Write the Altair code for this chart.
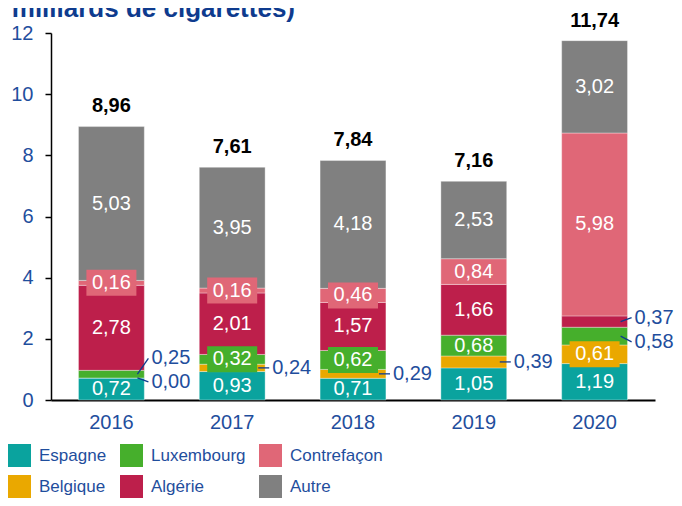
import altair as alt
import pandas as pd

# ---------------- data ----------------
years = ["2016", "2017", "2018", "2019", "2020"]
espagne = [0.72, 0.93, 0.71, 1.05, 1.19]
belgique = [0.00, 0.24, 0.29, 0.39, 0.61]
luxembourg = [0.25, 0.32, 0.62, 0.68, 0.58]
algerie = [2.78, 2.01, 1.57, 1.66, 0.37]
contrefacon = [0.16, 0.16, 0.46, 0.84, 5.98]
autre = [5.03, 3.95, 4.18, 2.53, 3.02]
totals = [8.96, 7.61, 7.84, 7.16, 11.74]

series_names = ["Espagne", "Belgique", "Luxembourg", "Algérie", "Contrefaçon", "Autre"]
series_values = [espagne, belgique, luxembourg, algerie, contrefacon, autre]

# ---------------- style ----------------
color_map = {
    "Espagne": "#0aa39e",
    "Belgique": "#eaa800",
    "Luxembourg": "#46af2c",
    "Algérie": "#bd1f4b",
    "Contrefaçon": "#e06777",
    "Autre": "#808080",
}
BLUE = "#1f4e9d"
DARK_BLUE = "#0e3b8e"
FONT = "Liberation Sans"

# labels drawn outside the bar, with leader line: label y in data units (None = level with segment)
outside_labels = {
    ("2016", "Luxembourg"): 1.36,
    ("2016", "Belgique"): 0.59,
    ("2017", "Belgique"): None,
    ("2018", "Belgique"): None,
    ("2019", "Belgique"): None,
    ("2020", "Algérie"): 2.69,
    ("2020", "Luxembourg"): 1.90,
}


def fr(v):
    return f"{v:.2f}".replace(".", ",")


rows = []
for i, yr in enumerate(years):
    base = 0.0
    for s, vals in zip(series_names, series_values):
        v = vals[i]
        mid = base + v / 2
        key = (yr, s)
        out = key in outside_labels
        ly = outside_labels.get(key)
        rows.append({
            "year": yr, "series": s, "value": v,
            "y0": base, "y1": base + v, "mid": mid,
            "label": fr(v), "outside": out,
            "label_y": (ly if ly is not None else mid) if out else mid,
            "box": (not out) and v < 0.65 and s != "Espagne",
        })
        base += v
df = pd.DataFrame(rows)
df_in = df[~df["outside"]]
df_out = df[df["outside"]]
df_box = df[df["box"]]
df_tot = pd.DataFrame({"year": years, "total": totals, "tlabel": [fr(t) for t in totals]})

x_scale = alt.Scale(paddingInner=0.455, paddingOuter=0.2275)
y_scale = alt.Scale(domain=[0, 12], nice=False)
# legend fills column by column: Espagne/Belgique, Luxembourg/Algérie, Contrefaçon/Autre
c_scale = alt.Scale(domain=series_names, range=[color_map[n] for n in series_names])

X = alt.X("year:N", scale=x_scale, sort=years,
          axis=alt.Axis(title=None, labelAngle=0, ticks=False, domainColor="black",
                        domainWidth=2, labelColor=BLUE, labelFontSize=20, labelFont=FONT,
                        labelPadding=12, labelFontWeight="normal"))

bars = alt.Chart(df).mark_bar(stroke="white", strokeWidth=0.5, strokeOpacity=0.7).encode(
    x=X,
    y=alt.Y("y0:Q", scale=y_scale,
            axis=alt.Axis(title=None, values=[0, 2, 4, 6, 8, 10, 12], grid=False,
                          domainColor="black", domainWidth=1.5, tickColor="black",
                          tickSize=6, tickWidth=1.5, labelColor=BLUE, labelFontSize=20,
                          labelFont=FONT, labelPadding=12)),
    y2="y1:Q",
    color=alt.Color("series:N", scale=c_scale,
                    legend=alt.Legend(title=None, orient="none", legendX=-43, legendY=411,
                                      columns=3, direction="vertical",
                                      symbolType="square", symbolSize=529,
                                      symbolStrokeWidth=0, symbolOpacity=1,
                                      labelFontSize=17, labelFont=FONT,
                                      labelColor=BLUE, labelOffset=8, columnPadding=13,
                                      rowPadding=8, padding=0)),
)

boxes = alt.Chart(df_box).mark_point(
    shape="M-1,-0.52L1,-0.52L1,0.52L-1,0.52Z", filled=True, size=2500, opacity=1,
    strokeWidth=0).encode(
    x=alt.X("year:N", sort=years),
    y=alt.Y("mid:Q"),
    color=alt.Color("series:N", scale=c_scale, legend=None),
)

in_labels = alt.Chart(df_in).mark_text(color="white", fontSize=20, font=FONT,
                                       baseline="middle").encode(
    x=alt.X("year:N", sort=years), y="mid:Q", text="label:N")

leaders = alt.Chart(df_out).mark_rule(color=DARK_BLUE, strokeWidth=1.3,
                                      xOffset=26, x2Offset=37).encode(
    x=alt.X("year:N", sort=years), x2="year:N", y="mid:Q", y2="label_y:Q")

out_labels = alt.Chart(df_out).mark_text(color=BLUE, fontSize=20, font=FONT, align="left",
                                         baseline="middle", dx=40).encode(
    x=alt.X("year:N", sort=years), y="label_y:Q", text="label:N")

tot_labels = alt.Chart(df_tot).mark_text(color="black", fontSize=20, font=FONT,
                                         fontWeight="bold", baseline="middle", dy=-20).encode(
    x=alt.X("year:N", sort=years), y="total:Q", text="tlabel:N")

title = alt.Chart(pd.DataFrame({"t": ["Volumes (en milliards de cigarettes)"]})).mark_text(
    color=DARK_BLUE, fontSize=26, font=FONT, fontWeight="bold", align="right",
    baseline="alphabetic").encode(
    x=alt.value(244), y=alt.value(-16), text="t:N")

chart = alt.layer(bars, boxes, in_labels, leaders, out_labels, tot_labels, title).properties(
    width=604, height=367,
    autosize=alt.AutoSizeParams(type="none"),
    padding={"left": 43, "top": 25, "right": 19, "bottom": 98},
).configure_view(strokeWidth=0)

chart.save("out.html", embed_options={"renderer": "svg", "actions": False})
